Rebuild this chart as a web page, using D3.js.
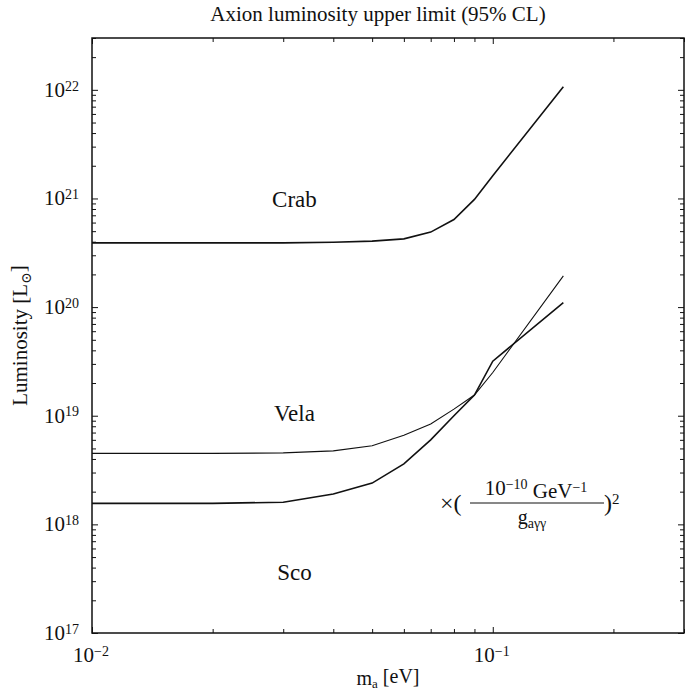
<!DOCTYPE html>
<html>
<head>
<meta charset="utf-8">
<script src="https://cdn.jsdelivr.net/npm/d3@7"></script>
<style>
  body { margin: 0; background: #fff; }
  text { font-family: 'Liberation Serif', 'DejaVu Serif', serif; fill: #111; }
</style>
</head>
<body>
<div id="graf"></div>
<script>
// datos (m_a en eV, luminosidad en L_sol)
masas = [0.01, 0.02, 0.03, 0.04, 0.05, 0.06, 0.07, 0.08, 0.09, 0.1, 0.15]
crab  = [3.9e20, 3.9e20, 3.9e20, 3.95e20, 4.05e20, 4.25e20, 4.9e20, 6.4e20, 9.8e20, 1.62e21, 1.07e22]
vela  = [4.5e18, 4.5e18, 4.55e18, 4.75e18, 5.3e18, 6.6e18, 8.4e18, 1.15e19, 1.55e19, 2.5e19, 1.94e20]
sco   = [1.56e18, 1.56e18, 1.6e18, 1.9e18, 2.4e18, 3.6e18, 6.0e18, 1.0e19, 1.55e19, 3.18e19, 1.1e20]
nombres = ['Crab', 'Vela', 'Sco']
posNombres = [[0.032, 8.3e20], [0.032, 9.0e18], [0.032, 3.1e17]]

xMayores = [0.01, 0.1]
xMenores = [0.02, 0.03, 0.04, 0.05, 0.06, 0.07, 0.08, 0.09, 0.2, 0.3]
yExpon = [17, 18, 19, 20, 21, 22]

ancho_total = 685
alto_total = 693
margins = { top: 38, left: 92, right: 1, bottom: 60 }
ancho = ancho_total - margins.left - margins.right
alto = alto_total - margins.top - margins.bottom

svg = d3.select('#graf').append('svg')
        .attr('width', ancho_total)
        .attr('height', alto_total)

g = svg.append('g')
       .attr('transform', `translate(${ margins.left }, ${ margins.top })`)

x = d3.scaleLog().domain([0.01, 0.3]).range([0, ancho])
y = d3.scaleLog().domain([1e17, 3e22]).range([alto, 0])

// ticks menores del eje y
yMenores = []
yExpon.forEach(e => {
  for (k = 2; k <= 9; k++) {
    v = k * Math.pow(10, e)
    if (v <= 3e22) yMenores.push(v)
  }
})
yMayores = yExpon.map(e => Math.pow(10, e))

// ejes con ticks hacia adentro
function ejes(tipo, valores, largo) {
  if (tipo == 'bottom') {
    g.append('g').attr('class', 'eje').attr('transform', `translate(0, ${ alto })`)
     .call(d3.axisBottom(x).tickValues(valores).tickSize(-largo).tickFormat(''))
  } else if (tipo == 'top') {
    g.append('g').attr('class', 'eje')
     .call(d3.axisTop(x).tickValues(valores).tickSize(-largo).tickFormat(''))
  } else if (tipo == 'left') {
    g.append('g').attr('class', 'eje')
     .call(d3.axisLeft(y).tickValues(valores).tickSize(-largo).tickFormat(''))
  } else {
    g.append('g').attr('class', 'eje').attr('transform', `translate(${ ancho }, 0)`)
     .call(d3.axisRight(y).tickValues(valores).tickSize(-largo).tickFormat(''))
  }
}
ejes('bottom', xMayores, 6); ejes('bottom', xMenores, 4)
ejes('top', xMayores, 6); ejes('top', xMenores, 4)
ejes('left', yMayores, 6); ejes('left', yMenores, 4)
ejes('right', yMayores, 6); ejes('right', yMenores, 4)
g.selectAll('.eje .domain').remove()
g.selectAll('.eje line').attr('stroke', '#111').attr('stroke-width', 1)

// marco
g.append('rect')
 .attr('width', ancho).attr('height', alto)
 .attr('fill', 'none').attr('stroke', '#111').attr('stroke-width', 1.5)

// etiquetas de potencias de diez
function potencia(sel, base, expo) {
  sel.append('tspan').text(base)
  sel.append('tspan').attr('dy', '-0.45em').style('font-size', '14px').text(expo)
}
yExpon.forEach(e => {
  t = g.append('text')
       .attr('x', -13).attr('y', y(Math.pow(10, e)) + 7)
       .attr('text-anchor', 'end').style('font-size', '21px')
  potencia(t, '10', e)
})
xMayores.forEach(v => {
  t = g.append('text')
       .attr('x', x(v) - 19).attr('y', alto + 29)
       .style('font-size', '21px')
  potencia(t, '10', '\u2212' + Math.round(-Math.log10(v)))
})

// curvas
linea = d3.line().x(d => x(d[0])).y(d => y(d[1]))
series = [crab, vela, sco]
series.forEach((s, i) => {
  g.append('path')
   .datum(masas.map((m, j) => [m, s[j]]))
   .attr('d', linea)
   .attr('fill', 'none')
   .attr('stroke', '#111')
   .attr('stroke-width', i == 1 ? 1.1 : 1.6)
})

// nombres de las fuentes
nombres.forEach((n, i) => {
  g.append('text')
   .attr('x', x(posNombres[i][0])).attr('y', y(posNombres[i][1]))
   .attr('text-anchor', 'middle').style('font-size', '23px')
   .text(n)
})

// titulo
svg.append('text')
   .attr('x', 378).attr('y', 21)
   .attr('text-anchor', 'middle').style('font-size', '21px')
   .text('Axion luminosity upper limit (95% CL)')

// titulo eje x
tx = svg.append('text')
   .attr('x', 388).attr('y', 685)
   .attr('text-anchor', 'middle').style('font-size', '20px')
tx.append('tspan').text('m')
tx.append('tspan').attr('dy', '0.25em').style('font-size', '13px').text('a')
tx.append('tspan').attr('dy', '-0.25em').text(' [eV]')

// titulo eje y
ty = svg.append('text')
   .attr('transform', `translate(27, ${ margins.top + alto / 2 }) rotate(-90)`)
   .attr('text-anchor', 'middle').style('font-size', '21px')
ty.append('tspan').text('Luminosity [L')
ty.append('tspan').attr('dy', '0.25em').style('font-size', '14px').text('\u2299')
ty.append('tspan').attr('dy', '-0.25em').text(']')

// factor de acoplamiento
fy = 503
f = svg.append('g')
f.append('text').attr('x', 440).attr('y', fy + 8).style('font-size', '24px').text('\u00d7(')
num = f.append('text').attr('x', 536).attr('y', fy - 8)
       .attr('text-anchor', 'middle').style('font-size', '21px')
num.append('tspan').text('10')
num.append('tspan').attr('dy', '-0.45em').style('font-size', '14px').text('\u221210')
num.append('tspan').attr('dy', '0.45em').text(' GeV')
num.append('tspan').attr('dy', '-0.45em').style('font-size', '14px').text('\u22121')
f.append('line').attr('x1', 470).attr('x2', 604).attr('y1', fy).attr('y2', fy)
 .attr('stroke', '#111').attr('stroke-width', 1)
den = f.append('text').attr('x', 532).attr('y', fy + 21)
       .attr('text-anchor', 'middle').style('font-size', '20px')
den.append('tspan').text('g')
den.append('tspan').attr('dy', '0.25em').style('font-size', '14px').text('a\u03b3\u03b3')
par = f.append('text').attr('x', 604).attr('y', fy + 8).style('font-size', '24px')
par.append('tspan').text(')')
par.append('tspan').attr('dy', '-0.5em').style('font-size', '15px').text('2')
</script>
</body>
</html>
